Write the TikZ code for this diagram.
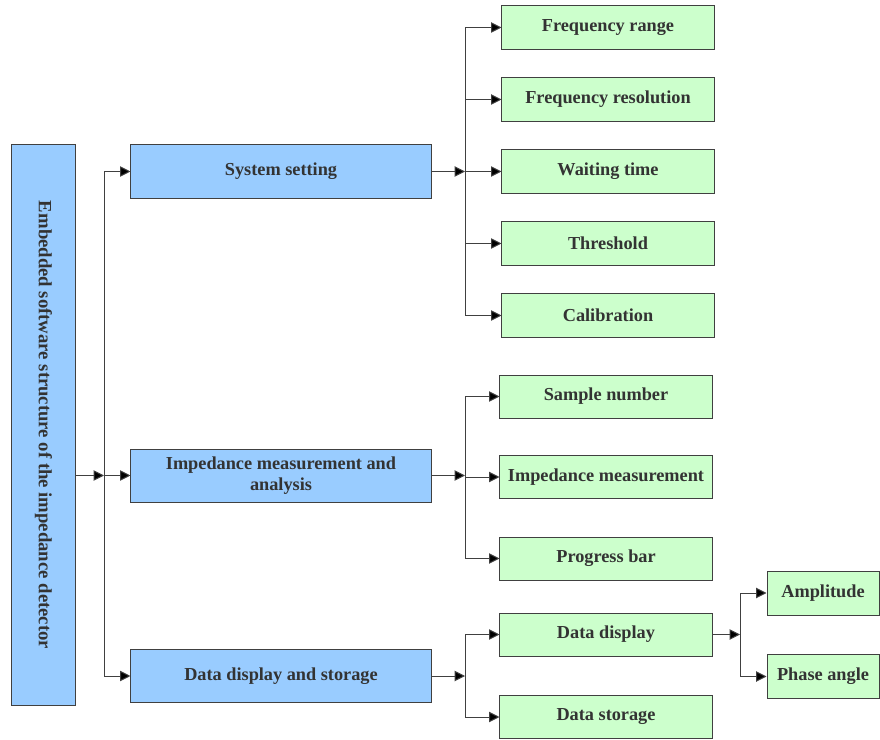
\documentclass[tikz,border=0pt]{standalone}
\usepackage{fontspec}
\setmainfont{Liberation Serif}
\usepackage{xcolor}
\usetikzlibrary{arrows.meta, positioning}

\definecolor{boxblue}{HTML}{99CCFF}
\definecolor{boxgreen}{HTML}{CCFFCC}
\definecolor{textgray}{HTML}{333333}
\definecolor{linegray}{HTML}{404040}

\begin{document}
\begin{tikzpicture}[x=0.025cm, y=-0.025cm,
    lvlone/.style={draw=linegray, line width=0.7pt, fill=boxblue, minimum width=7.5cm, minimum height=1.325cm,
        align=center, font=\fontsize{13}{15}\selectfont\bfseries, text=textgray},
    lvltwo/.style={draw=linegray, line width=0.7pt, fill=boxgreen, minimum width=5.3cm, minimum height=1.075cm,
        font=\fontsize{13}{15}\selectfont\bfseries, text=textgray},
    arr/.style={draw=linegray, line width=0.7pt, -{Triangle[length=2.6mm, width=2.6mm, fill=black]}}]
                \useasboundingbox (0, 0) rectangle (880, 740);

                \node[draw=linegray, line width=0.7pt, fill=boxblue, rotate=-90, minimum width=14cm, minimum height=1.575cm,
                    font=\fontsize{13.3}{15}\selectfont\bfseries, text=textgray] (main) at (43.5, 425)
                    {Embedded software structure of the impedance detector};

                \node[lvlone] (set) at (281, 171.5) {System setting};
                \node[lvlone] (imp) at (281, 475.5) {Impedance measurement and\\analysis};
                \node[lvlone] (dat) at (281, 676) {Data display and storage};

                \node[lvltwo] (fr) at (608, 27.5) {Frequency range};
                \node[lvltwo] (fres) at (608, 99.5) {Frequency resolution};
                \node[lvltwo] (wt) at (608, 171.5) {Waiting time};
                \node[lvltwo] (th) at (608, 243.5) {Threshold};
                \node[lvltwo] (cal) at (608, 315.5) {Calibration};

                \node[lvltwo] (sn) at (606, 396.5) {Sample number};
                \node[lvltwo] (im) at (606, 477) {Impedance measurement};
                \node[lvltwo] (pb) at (606, 558.5) {Progress bar};

                \node[lvltwo] (dd) at (606, 634.5) {Data display};
                \node[lvltwo] (ds) at (606, 717) {Data storage};

                \node[lvltwo, minimum width=2.8cm, minimum height=1.1cm] (amp) at (823, 593) {Amplitude};
                \node[lvltwo, minimum width=2.8cm, minimum height=1.1cm] (pa) at (823, 676.5) {Phase angle};

                % branch points
                \coordinate (j0) at (104, 475.5);
                \coordinate (j1) at (465, 171.5);
                \coordinate (j2) at (465, 475.5);
                \coordinate (j3) at (465, 676);
                \coordinate (j4) at (740, 634.5);

                % main box to the three modules
                \draw[arr] (main.north |- j0) -- (j0);
                \draw[arr] (j0) |- (set.west);
                \draw[arr] (j0) -- (imp.west);
                \draw[arr] (j0) |- (dat.west);

                % system setting
                \draw[arr] (set.east) -- (j1);
                \draw[arr] (j1) |- (fr.west);
                \draw[arr] (j1) |- (fres.west);
                \draw[arr] (j1) -- (wt.west);
                \draw[arr] (j1) |- (th.west);
                \draw[arr] (j1) |- (cal.west);

                % impedance measurement and analysis
                \draw[arr] (imp.east) -- (j2);
                \draw[arr] (j2) |- (sn.west);
                \draw[arr] (j2) |- (im.west);
                \draw[arr] (j2) |- (pb.west);

                % data display and storage
                \draw[arr] (dat.east) -- (j3);
                \draw[arr] (j3) |- (dd.west);
                \draw[arr] (j3) |- (ds.west);

                % data display
                \draw[arr] (dd.east) -- (j4);
                \draw[arr] (j4) |- (amp.west);
                \draw[arr] (j4) |- (pa.west);
            \end{tikzpicture}
\end{document}
